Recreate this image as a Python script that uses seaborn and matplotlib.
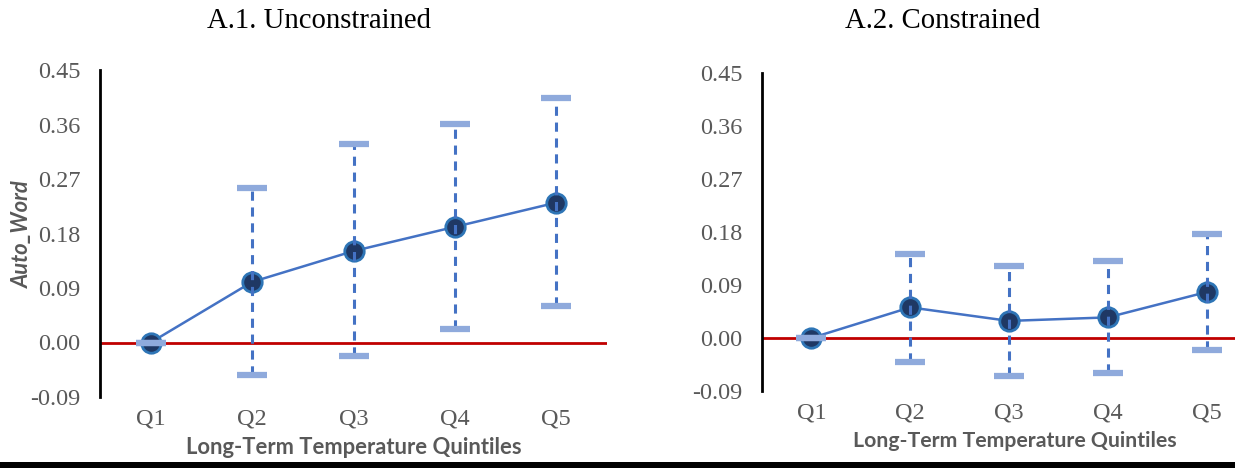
import numpy as np
import pandas as pd
import matplotlib
matplotlib.use("Agg")
import matplotlib.pyplot as plt
from matplotlib.patches import Rectangle
import seaborn as sns

# Quintile estimates with 95% confidence bounds
quintiles = ["Q1", "Q2", "Q3", "Q4", "Q5"]

unc_coef = [0.000, 0.100, 0.151, 0.191, 0.231]
unc_low = [0.000, -0.053, -0.023, 0.023, 0.061]
unc_high = [0.000, 0.255, 0.327, 0.361, 0.404]

con_coef = [0.000, 0.052, 0.029, 0.035, 0.078]
con_low = [0.000, -0.040, -0.065, -0.060, -0.020]
con_high = [0.000, 0.143, 0.123, 0.130, 0.177]

y_ticks = [-0.09, 0.00, 0.09, 0.18, 0.27, 0.36, 0.45]

titles = ["A.1. Unconstrained", "A.2. Constrained"]
x_label = "Long-Term Temperature Quintiles"
y_label = "Auto_Word"

sns.set_theme(style="white")
plt.rcParams["font.family"] = ["Liberation Serif", "DejaVu Serif"]

W, H = 1235, 468
fig = plt.figure(figsize=(W / 100, H / 100), dpi=100)


def px_axes(x0, x1, ytop, ybot):
    return fig.add_axes([x0 / W, (H - ybot) / H, (x1 - x0) / W, (ybot - ytop) / H])


ax1 = px_axes(100, 607, 70, 397)
ax2 = px_axes(762, 1256, 73, 391)

LINE = "#4472C4"
CAP = "#8FAADC"
FACE = "#1F3864"
EDGE = "#2E75B6"
GREY = "#595959"

for ax, coef, lo, hi in [(ax1, unc_coef, unc_low, unc_high),
                         (ax2, con_coef, con_low, con_high)]:
    df = pd.DataFrame({"pos": np.arange(len(quintiles)), "coef": coef,
                       "low": lo, "high": hi})
    ax.axhline(0, color="#C00000", lw=2.0, zorder=1)
    sns.lineplot(data=df, x="pos", y="coef", ax=ax, color=LINE, lw=1.8,
                 marker="o", markersize=14, markerfacecolor=FACE,
                 markeredgecolor=EDGE, markeredgewidth=2.0, zorder=3)
    err = np.vstack([df["coef"] - df["low"], df["high"] - df["coef"]])
    _, caps, bars = ax.errorbar(df["pos"], df["coef"], yerr=err, fmt="none",
                                ecolor=LINE, elinewidth=2.2, capsize=11,
                                capthick=4.5, zorder=4)
    for b in bars:
        b.set_linestyle((0, (3, 2.2)))
    for c in caps:
        c.set_markeredgecolor(CAP)
        c.set_zorder(5)

    ax.set_xlim(-0.5, 4.5)
    ax.set_ylim(-0.09, 0.45)
    ax.set_yticks(y_ticks)
    ax.set_yticklabels([f"{v:.2f}" for v in y_ticks])
    ax.set_xticks(range(len(quintiles)))
    ax.set_xticklabels(quintiles)
    ax.tick_params(axis="y", length=0, pad=14, labelsize=17.5, labelcolor=GREY)
    ax.tick_params(axis="x", length=0, pad=8, labelsize=17.5, labelcolor=GREY)
    ax.set_xlabel("")
    ax.set_ylabel("")
    for s in ["top", "right", "bottom"]:
        ax.spines[s].set_visible(False)
    ax.spines["left"].set_color("black")
    ax.spines["left"].set_linewidth(2.0)
    ax.set_facecolor("none")

fig.text(319 / W, 1 - 21 / H, titles[0], ha="center", va="center",
         fontsize=20.7, color="black")
fig.text(943 / W, 1 - 21 / H, titles[1], ha="center", va="center",
         fontsize=20.7, color="black")

lab_font = dict(family=["Lato", "DejaVu Sans"], weight="bold", color=GREY)
fig.text(354 / W, 1 - 448 / H, x_label, ha="center", va="center",
         fontsize=15.8, **lab_font)
fig.text(1015 / W, 1 - 441 / H, x_label, ha="center", va="center",
         fontsize=15.3, **lab_font)
fig.text(22 / W, 1 - 234 / H, y_label, ha="center", va="center",
         rotation=90, style="italic", fontsize=15.8, **lab_font)

fig.patches.append(Rectangle((0, 0), 1, 6 / H, transform=fig.transFigure,
                             facecolor="black", edgecolor="none"))

fig.savefig("out.png", dpi=100)
